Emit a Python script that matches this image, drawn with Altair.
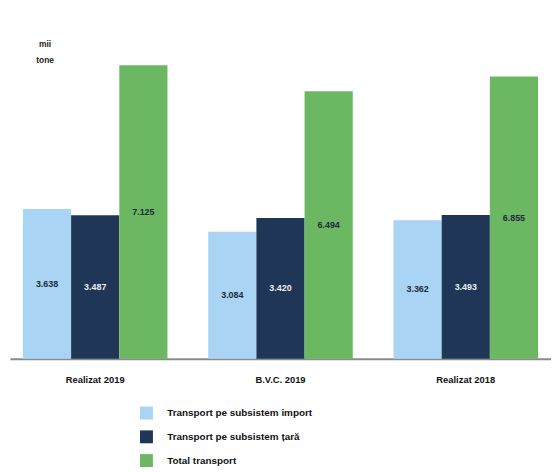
import altair as alt
import pandas as pd

categories = ["Realizat 2019", "B.V.C. 2019", "Realizat 2018"]
series = ["Transport pe subsistem import", "Transport pe subsistem țară", "Total transport"]
import_vals = [3638, 3084, 3362]
tara_vals = [3487, 3420, 3493]
total_vals = [7125, 6494, 6855]
colors = ["#a9d4f4", "#1f3656", "#6cb862"]
label_colors = ["#1c2b3c", "#e8eef5", "#1c2b3c"]

rows = []
for i, c in enumerate(categories):
    for s, vals, lc in zip(series, [import_vals, tara_vals, total_vals], label_colors):
        v = vals[i]
        rows.append({"cat": c, "series": s, "value": v, "half": v / 2,
                     "label": f"{v:,}".replace(",", "."), "lc": lc})
df = pd.DataFrame(rows)

font = "Liberation Sans"

x_enc = alt.X("cat:N", sort=categories,
              scale=alt.Scale(paddingInner=0.22, paddingOuter=0.07),
              axis=alt.Axis(title=None, labelAngle=0, ticks=False, labelPadding=16,
                            labelFont=font, labelFontSize=9.5, labelFontWeight="bold",
                            labelColor="#111", domainColor="#8a8a8a", domainWidth=2,
                            grid=False))
xoff = alt.XOffset("series:N", sort=series, scale=alt.Scale(paddingInner=0, paddingOuter=0))

bars = alt.Chart(df).mark_bar().encode(
    x=x_enc,
    xOffset=xoff,
    y=alt.Y("value:Q", scale=alt.Scale(domain=[0, 8000], nice=False),
            axis=alt.Axis(title=["mii", "tone"], labels=False, ticks=False, domain=False,
                          grid=False, titleAngle=0, titleX=35, titleY=14,
                          titleAlign="center", titleBaseline="middle",
                          titleFont=font, titleFontSize=8.5, titleFontWeight="bold",
                          titleColor="#222", titleLineHeight=17)),
    color=alt.Color("series:N", sort=series,
                    scale=alt.Scale(domain=series, range=colors),
                    legend=alt.Legend(title=None, orient="none", legendX=131, legendY=381,
                                      direction="vertical", symbolType="square",
                                      symbolSize=170, symbolStrokeWidth=0,
                                      labelFont=font, labelFontSize=10,
                                      labelFontWeight="bold", labelColor="#111",
                                      labelOffset=14, rowPadding=10)),
)

labels = alt.Chart(df).mark_text(font=font, fontSize=9, fontWeight="bold").encode(
    x=alt.X("cat:N", sort=categories),
    xOffset=xoff,
    y=alt.Y("half:Q"),
    text="label:N",
    color=alt.Color("lc:N", scale=None),
)

chart = (bars + labels).properties(
    width=547, height=333,
    autosize=alt.AutoSizeParams(type="none"),
    padding={"left": 2, "top": 19, "right": 0, "bottom": 112},
).configure(background="white").configure_view(strokeWidth=0, stroke="transparent")

chart.save("out.html", embed_options={"renderer": "svg", "actions": False})
